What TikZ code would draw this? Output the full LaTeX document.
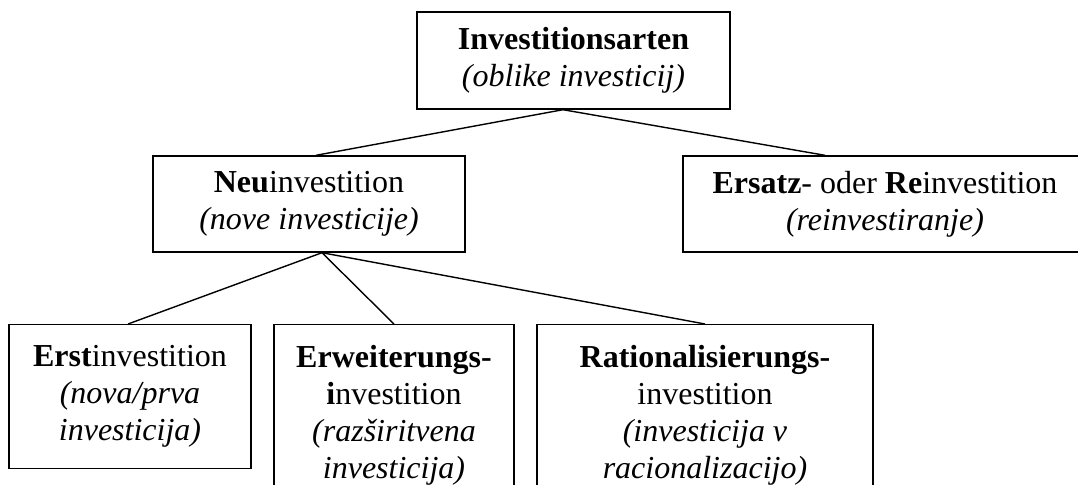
\documentclass[tikz,border=0pt]{standalone}
\usepackage{fontspec}
\setmainfont{Liberation Serif}
\usetikzlibrary{positioning}
\tikzset{
  invbox/.style={draw, line width=0.7pt, align=center, inner sep=2pt,
                 font=\fontsize{16}{18.5}\selectfont},
  topbox/.style={invbox, minimum width=156.5pt, minimum height=48.5pt},
  midbox/.style={invbox, minimum height=48pt},
  lowbox/.style={invbox, anchor=north},
  treeline/.style={line width=0.7pt},
}
\begin{document}
\begin{tikzpicture}[x=1pt, y=1pt]
\def\yTop{-30.25}  % y-position for top row
\def\yMid{-102}    % y-position for middle row
\def\yLow{-162}    % top edge of lower row
\useasboundingbox (0,0) rectangle (539,-242);

%% Top node
\node[topbox] (arten) at (286.75, \yTop)
  {\textbf{Investitionsarten}\\\textit{(oblike investicij)}};

%% Middle nodes
\node[midbox, minimum width=156pt] (neu) at (154.5, \yMid)
  {\textbf{Neu}investition\\\textit{(nove investicije)}};
\node[midbox, minimum width=202pt] (ersatz) at (442.5, \yMid)
  {\textbf{Ersatz}- oder \textbf{Re}investition\\\textit{(reinvestiranje)}};

%% Lower nodes
\node[lowbox, minimum width=121pt, minimum height=72pt] (erst) at (65, \yLow)
  {\textbf{Erst}investition\\\textit{(nova/prva}\\\textit{investicija)}};
\node[lowbox, minimum width=120pt, minimum height=90.5pt] (erw) at (197, \yLow)
  {\textbf{Erweiterungs-}\\\textbf{i}nvestition\\\textit{(razširitvena}\\\textit{investicija)}};
\node[lowbox, minimum width=168pt, minimum height=90.5pt] (ratio) at (352.5, \yLow)
  {\textbf{Rationalisierungs-}\\investition\\\textit{(investicija v}\\\textit{racionalizacijo)}};

%% Connectors
\draw[treeline] ([xshift=-5.25pt]arten.south) -- ([xshift=3.5pt]neu.north);
\draw[treeline] ([xshift=-5.25pt]arten.south) -- ([xshift=-30pt]ersatz.north);
\draw[treeline] ([xshift=6.5pt]neu.south) -- ([xshift=-1pt]erst.north);
\draw[treeline] ([xshift=6.5pt]neu.south) -- (erw.north);
\draw[treeline] ([xshift=6.5pt]neu.south) -- (ratio.north);
\end{tikzpicture}
\end{document}
